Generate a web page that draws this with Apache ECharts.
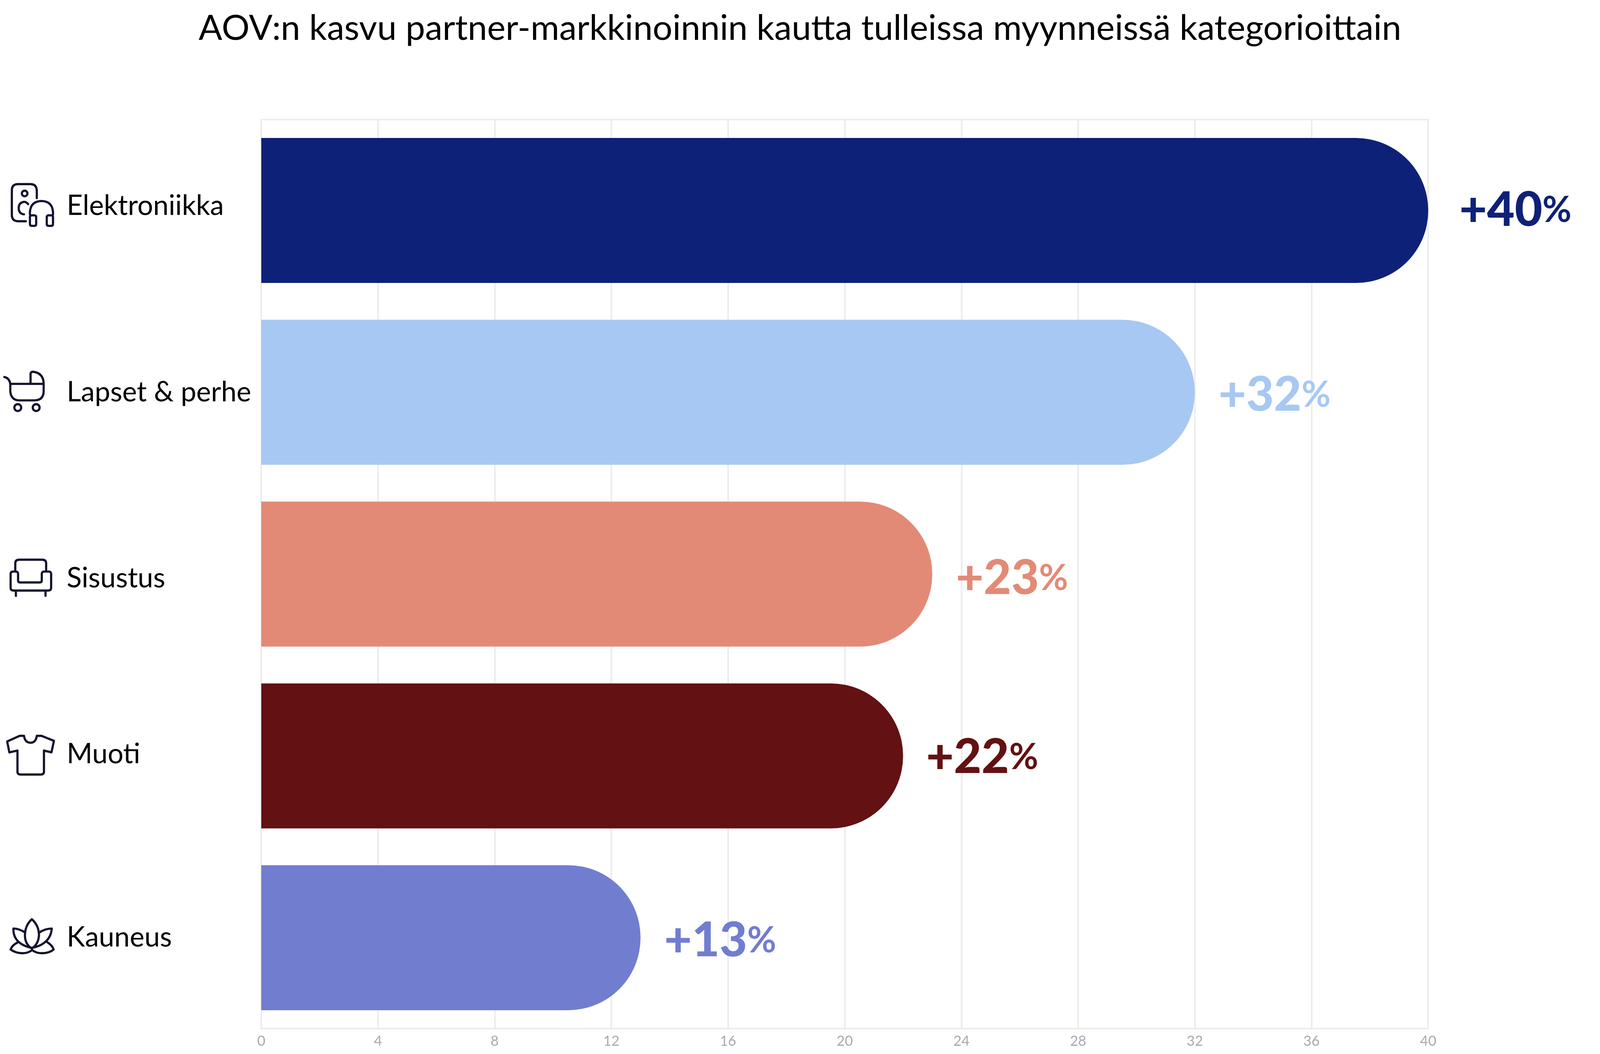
<!DOCTYPE html>
<html>
<head>
<meta charset="utf-8">
<title>AOV</title>
<script src="https://cdn.jsdelivr.net/npm/echarts@6/dist/echarts.min.js"></script>
<style>
  html, body { margin: 0; padding: 0; background: #fff; overflow: hidden; }
  #chart { width: 100vw; height: 100vh; }
</style>
</head>
<body>
<div id="chart"></div>
<script>
const titleText = 'AOV:n kasvu partner-markkinoinnin kautta tulleissa myynneissä kategorioittain';
const categories = ['Elektroniikka', 'Lapset & perhe', 'Sisustus', 'Muoti', 'Kauneus'];
const growth = [40, 32, 23, 22, 13];
const barColors = ['#0E2178', '#A7C8F2', '#E38A76', '#631112', '#717DCF'];

// hand placed in the original, so every row sits a little differently
const nameShift = [-12, 0, 11, -4, 0];
const valueShift = [[30, 0], [6, 8], [6, 12], [4, 4], [6, 8]];

// line icons, drawn on the 5132 wide layout
const iconRows = [523, 1003, 1480, 1930, 2400];
const iconPaths = [
  'M118,503 V480 Q118,458 97,458 H58 Q38,458 38,478 V556 Q38,577 58,577 H83 ' +
  'M70,488 A9,9 0 1 1 88,488 A9,9 0 1 1 70,488 ' +
  'M90,522 Q84,514 76,515 Q60,518 60,535 Q60,553 77,555 ' +
  'M96,556 V548 Q98,513 133,512 Q168,513 170,548 V556 ' +
  'M96,564 Q96,558 102,558 H110 Q116,558 116,564 V586 Q116,592 110,592 H102 Q96,592 96,586 Z ' +
  'M150,564 Q150,558 156,558 H164 Q170,558 170,564 V586 Q170,592 164,592 H156 Q150,592 150,586 Z',
  'M14,955 Q30,958 33,977 V1000 Q35,1030 63,1030 H110 Q140,1030 140,1000 V977 Q140,942 105,938 Q98,939 98,946 V977 ' +
  'M33,977 H140 ' +
  'M46,1053 A11,11 0 1 1 68,1053 A11,11 0 1 1 46,1053 ' +
  'M105,1053 A11,11 0 1 1 127,1053 A11,11 0 1 1 105,1053',
  'M49,1457 V1432 Q49,1420 62,1420 H135 Q148,1420 148,1432 V1457 ' +
  'M42,1458 H50 Q58,1458 58,1466 V1487 Q58,1493 64,1493 H128 Q134,1493 134,1487 V1466 Q134,1458 142,1458 H156 ' +
  'Q164,1458 164,1466 V1510 Q164,1519 154,1519 H44 Q34,1519 34,1510 V1466 Q34,1458 42,1458 Z ' +
  'M51,1519 V1536 M146,1519 V1536',
  'M77,1871 Q80,1893 98,1893 Q115,1893 118,1871 H133 L173,1887 L165,1924 L141,1918 V1985 Q141,1995 131,1995 H66 ' +
  'Q56,1995 56,1985 V1918 L30,1924 L23,1889 L63,1871 Z',
  'M102,2340 Q125,2360 125,2392 Q123,2420 102,2434 Q80,2420 80,2392 Q80,2360 102,2340 Z ' +
  'M80,2382 Q60,2370 43,2370 Q42,2400 65,2417 Q80,2428 102,2432 ' +
  'M127,2382 Q146,2370 166,2370 Q164,2400 140,2417 Q125,2428 102,2432 ' +
  'M57,2414 Q38,2424 34,2437 Q50,2449 72,2449 Q90,2449 103,2439 Q116,2449 135,2449 Q158,2449 172,2437 Q168,2424 152,2414'
];

const FONT = 'Lato';

const chart = echarts.init(document.getElementById('chart'));

// the window can come up narrower than the 5132 the chart was laid out for
const sx = chart.getWidth() / 5132;

const nameRich = {};
categories.forEach(function (c, i) {
  const s = nameShift[i];
  nameRich['c' + i] = {
    fontFamily: FONT, fontSize: 89 * sx, color: '#000',
    padding: s < 0 ? [0, 0, -2 * s, 0] : [2 * s, 0, 0, 0]
  };
});

chart.setOption({
  animation: false,
  backgroundColor: '#fff',
  title: {
    text: titleText,
    left: 'center',
    top: 24,
    textStyle: { fontFamily: FONT, fontSize: 112 * sx, fontWeight: 'normal', color: '#000' }
  },
  grid: {
    left: 838 * sx, right: 551 * sx, top: 306, bottom: 65,
    show: true, borderColor: '#ececec', borderWidth: 4
  },
  xAxis: {
    type: 'value',
    min: 0,
    max: 40,
    interval: 4,
    axisLine: { show: false },
    axisTick: { show: false },
    axisLabel: { fontFamily: FONT, fontSize: 36, color: '#a8a8b2', margin: 14 },
    splitLine: { lineStyle: { color: '#ececec', width: 4 } }
  },
  yAxis: {
    type: 'category',
    inverse: true,
    data: categories,
    axisLine: { show: false },
    axisTick: { show: false },
    axisLabel: {
      align: 'left',
      margin: 624 * sx,
      formatter: function (value, index) { return '{c' + index + '|' + value + '}'; },
      rich: nameRich
    }
  },
  series: [
    {
      type: 'bar',
      barWidth: 371,
      itemStyle: { borderRadius: [0, 185, 185, 0] },
      data: growth.map(function (v, i) {
        return {
          value: v,
          itemStyle: { color: barColors[i] },
          label: {
            show: true,
            position: 'right',
            distance: 70 * sx,
            offset: [valueShift[i][0] * sx, valueShift[i][1]],
            formatter: '{n|+' + v + '}{p|%}',
            rich: {
              n: { fontFamily: FONT, fontSize: 153 * sx, fontWeight: 900, color: barColors[i] },
              p: { fontFamily: FONT, fontSize: 114 * sx, fontWeight: 700, color: barColors[i] }
            }
          }
        };
      })
    },
    {
      type: 'custom',
      silent: true,
      data: categories.map(function (c, i) { return [0, i]; }),
      renderItem: function (params) {
        const i = params.dataIndex;
        return {
          type: 'path',
          shape: { pathData: iconPaths[i] },
          scaleX: sx,
          scaleY: sx,
          y: iconRows[i] * (1 - sx),
          style: { fill: 'none', stroke: '#12122e', lineWidth: 7, lineCap: 'round', lineJoin: 'round' }
        };
      }
    }
  ]
});
</script>
</body>
</html>
